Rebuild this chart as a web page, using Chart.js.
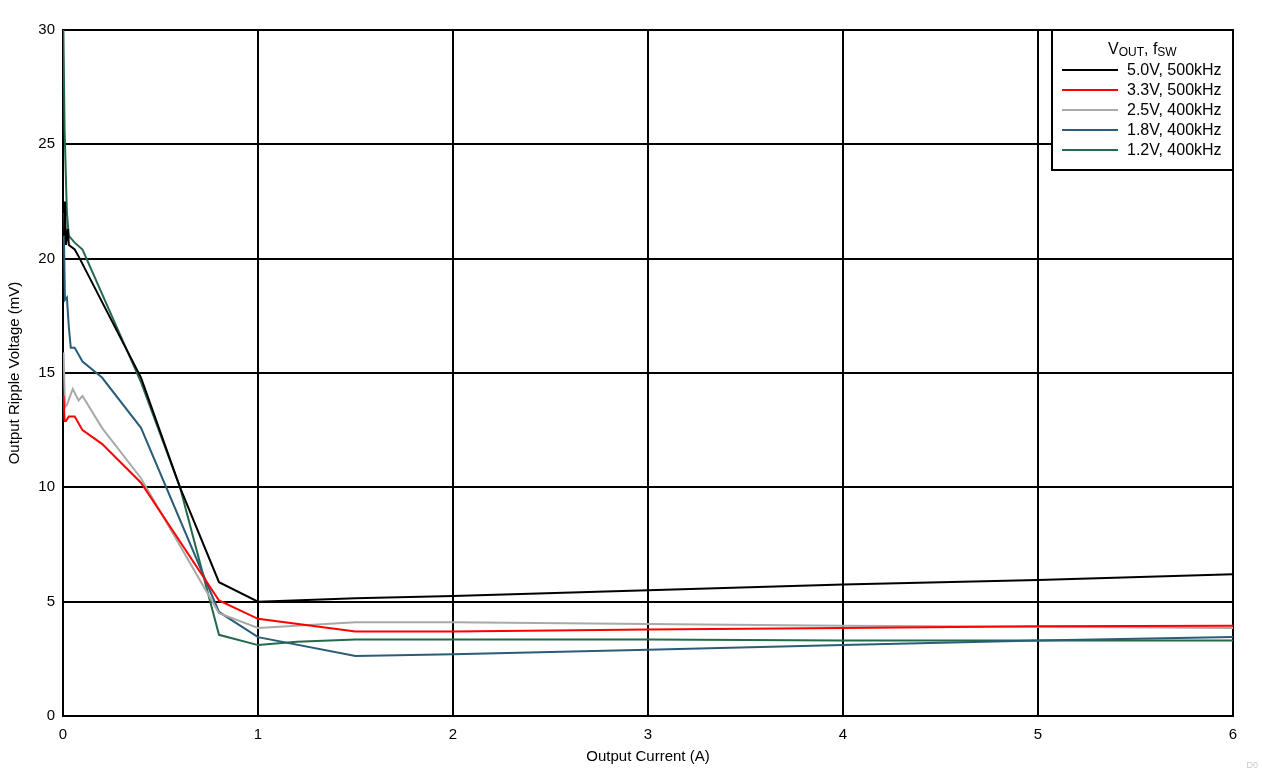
<!DOCTYPE html>
<html>
<head>
<meta charset="utf-8">
<script src="https://cdn.jsdelivr.net/npm/chart.js@4.4.1/dist/chart.umd.min.js"></script>
<style>
  html, body { margin: 0; padding: 0; background: #fff; }
  #wrap { position: relative; width: 1262px; height: 776px; }
  #mark { position: absolute; right: 4px; bottom: 6px; font: 9px "Liberation Sans", Arial, sans-serif; color: #c8c8c8; }
</style>
</head>
<body>
<div id="wrap">
  <canvas id="mycanvas" width="1262" height="776"></canvas>
  <div id="mark">D0</div>
</div>
<script>
// tick labels
var xTicks = [0, 1, 2, 3, 4, 5, 6];
var yTicks = [0, 5, 10, 15, 20, 25, 30];

// series labels and colours
var names = ['5.0V, 500kHz', '3.3V, 500kHz', '2.5V, 400kHz', '1.8V, 400kHz', '1.2V, 400kHz'];
var colors = ['#000000', '#ff0000', '#a9a9a9', '#2a5d78', '#24694a'];

// output current (A) / ripple (mV)
var x50 = [0.005, 0.01, 0.015, 0.025, 0.03, 0.06, 0.08, 0.4, 0.6, 0.8, 1, 1.5, 2, 3, 4, 5, 6];
var y50 = [21.0, 22.5, 20.6, 21.3, 20.6, 20.4, 20.1, 14.8, 10.0, 5.85, 5.0, 5.15, 5.25, 5.5, 5.75, 5.95, 6.2];

var x33 = [0.003, 0.008, 0.015, 0.03, 0.06, 0.1, 0.2, 0.4, 0.8, 1, 1.5, 2, 3, 4, 5, 6];
var y33 = [14.0, 12.9, 12.9, 13.1, 13.1, 12.5, 11.9, 10.2, 5.05, 4.25, 3.7, 3.7, 3.78, 3.85, 3.92, 3.95];

var x25 = [0.003, 0.01, 0.02, 0.05, 0.08, 0.1, 0.2, 0.4, 0.8, 1, 1.5, 2, 3, 4, 5, 6];
var y25 = [15.9, 13.5, 13.6, 14.3, 13.8, 14.0, 12.6, 10.4, 4.5, 3.85, 4.1, 4.1, 4.02, 3.95, 3.9, 3.85];

var x18 = [0.003, 0.01, 0.02, 0.03, 0.04, 0.06, 0.1, 0.2, 0.4, 0.8, 1, 1.5, 2, 3, 4, 5, 6];
var y18 = [22.0, 18.2, 18.3, 17.0, 16.1, 16.1, 15.5, 14.8, 12.6, 4.55, 3.45, 2.62, 2.7, 2.9, 3.1, 3.3, 3.45];

var x12 = [0.002, 0.008, 0.015, 0.02, 0.03, 0.06, 0.1, 0.4, 0.6, 0.8, 1, 1.2, 1.5, 3, 4, 6];
var y12 = [30.0, 25.7, 23.5, 22.0, 21.0, 20.7, 20.4, 14.6, 10.0, 3.55, 3.1, 3.25, 3.35, 3.35, 3.3, 3.3];

var xs = [x50, x33, x25, x18, x12];
var ys = [y50, y33, y25, y18, y12];

var datasets = [];
for (var i in names) {
	var pts = [];
	for (var j in xs[i]) {
		pts.push({x: xs[i][j], y: ys[i][j]});
	}
	datasets.push({
		label: names[i],
		data: pts,
		borderColor: colors[i],
		backgroundColor: colors[i],
		borderWidth: 2,
		pointRadius: 0,
		showLine: true,
		tension: 0
	});
}

var FONT = '"Liberation Sans", Arial, sans-serif';

// boxed legend with subscripted title, drawn in the top right corner
var legendBox = {
	id: 'legendBox',
	afterDraw: function(chart) {
		var c = chart.ctx;
		var a = chart.chartArea;
		var bx = a.right - 181, by = a.top, bw = 181, bh = 140;
		c.save();
		c.fillStyle = '#fff';
		c.fillRect(bx, by, bw, bh);
		c.strokeStyle = '#000';
		c.lineWidth = 2;
		c.strokeRect(bx, by, bw, bh);
		c.fillStyle = '#000';
		c.textBaseline = 'alphabetic';
		var tx = bx + 56, ty = by + 24;
		c.font = '16px ' + FONT;
		c.fillText('V', tx, ty);
		tx += c.measureText('V').width;
		c.font = '12px ' + FONT;
		c.fillText('OUT', tx, ty + 2);
		tx += c.measureText('OUT').width;
		c.font = '16px ' + FONT;
		c.fillText(', f', tx, ty);
		tx += c.measureText(', f').width;
		c.font = '12px ' + FONT;
		c.fillText('SW', tx, ty + 2);
		c.font = '16px ' + FONT;
		c.textBaseline = 'middle';
		for (var k = 0; k < names.length; k++) {
			var ry = by + 40 + k * 20;
			c.strokeStyle = colors[k];
			c.lineWidth = 2;
			c.beginPath();
			c.moveTo(bx + 10, ry);
			c.lineTo(bx + 66, ry);
			c.stroke();
			c.fillText(names[k], bx + 75, ry + 1);
		}
		c.restore();
	}
};

var ctx = document.getElementById('mycanvas');
var chart = new Chart(ctx, {
	type: 'scatter',
	data: { datasets: datasets },
	options: {
		responsive: false,
		animation: false,
		layout: { padding: { top: 30, right: 29, left: 0, bottom: 10 } },
		plugins: {
			legend: { display: false },
			tooltip: { enabled: false }
		},
		scales: {
			x: {
				type: 'linear',
				min: 0,
				max: 6,
				afterBuildTicks: function(axis) { axis.ticks = xTicks.map(function(v) { return {value: v}; }); },
				afterFit: function(axis) { axis.height = 50; },
				grid: { color: '#000', lineWidth: 2, drawTicks: false },
				border: { color: '#000', width: 2 },
				ticks: { color: '#000', font: { family: FONT, size: 15 }, padding: 10, maxRotation: 0 },
				title: { display: true, text: 'Output Current (A)', color: '#000', font: { family: FONT, size: 15 }, padding: { top: 0, bottom: 0 } }
			},
			y: {
				type: 'linear',
				min: 0,
				max: 30,
				afterBuildTicks: function(axis) { axis.ticks = yTicks.map(function(v) { return {value: v}; }); },
				afterFit: function(axis) { axis.width = 63; },
				grid: { color: '#000', lineWidth: 2, drawTicks: false },
				border: { color: '#000', width: 2 },
				ticks: { color: '#000', font: { family: FONT, size: 15 }, padding: 8 },
				title: { display: true, text: 'Output Ripple Voltage (mV)', color: '#000', font: { family: FONT, size: 15 }, padding: { top: 6, bottom: 4 } }
			}
		}
	},
	plugins: [legendBox]
});
</script>
</body>
</html>
